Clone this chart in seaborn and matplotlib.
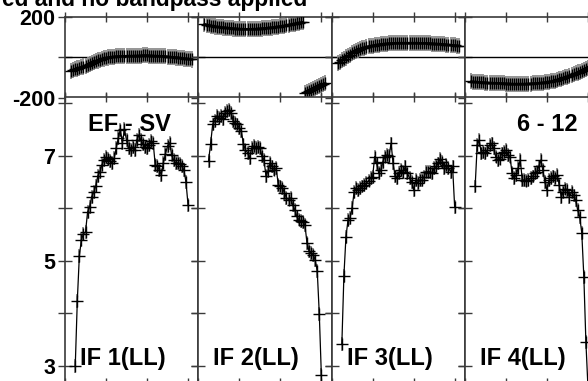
import matplotlib
matplotlib.use("Agg")
import matplotlib.pyplot as plt
import numpy as np
import pandas as pd
import seaborn as sns

sns.set_theme(style="white")
plt.rcParams["font.family"] = ["Liberation Sans", "DejaVu Sans"]
plt.rcParams["font.weight"] = "bold"

# ---------------- data ----------------
title_text = "ed and no bandpass applied"
baseline_label = "EF - SV"
time_label = "6 - 12"
if_labels = ["IF 1(LL)", "IF 2(LL)", "IF 3(LL)", "IF 4(LL)"]

amp_channels = list(range(5, 61))
phase_channels = list(range(3, 63))

amp_if1 = [3.00, 4.24, 5.10, 5.40, 5.52, 5.55, 5.93, 6.03, 6.22, 6.31,
           6.43, 6.62, 6.70, 6.83, 6.92, 6.98, 6.94, 6.90, 6.87, 6.96,
           7.15, 7.34, 7.50, 7.25, 7.51, 7.30, 7.15, 7.11, 7.17, 7.11,
           7.30, 7.40, 7.30, 7.23, 7.17, 7.15, 7.21, 7.29, 7.25, 6.83,
           6.81, 6.73, 6.64, 6.87, 7.04, 7.19, 7.25, 7.02, 6.92, 6.87,
           6.87, 6.85, 6.81, 6.73, 6.50, 6.07]
amp_if2 = [6.91, 7.23, 7.60, 7.67, 7.76, 7.72, 7.76, 7.71, 7.82, 7.86,
           7.88, 7.82, 7.67, 7.63, 7.60, 7.53, 7.48, 7.22, 7.12, 7.06,
           6.96, 7.15, 7.19, 7.15, 7.17, 7.15, 7.00, 6.93, 6.62, 6.71,
           6.87, 6.80, 6.74, 6.77, 6.45, 6.42, 6.39, 6.30, 6.20, 6.17,
           6.20, 6.07, 5.98, 5.85, 5.79, 5.76, 5.74, 5.69, 5.34, 5.19,
           5.15, 5.12, 5.02, 4.81, 3.99, 2.83]
amp_if3 = [3.42, 4.72, 5.46, 5.78, 5.82, 6.01, 6.32, 6.39, 6.35, 6.39,
           6.42, 6.45, 6.48, 6.53, 6.58, 6.60, 6.99, 6.86, 6.67, 6.73,
           6.89, 6.99, 7.02, 7.00, 7.24, 6.86, 6.61, 6.58, 6.67, 6.73,
           6.70, 6.80, 6.67, 6.58, 6.51, 6.35, 6.54, 6.48, 6.54, 6.54,
           6.60, 6.70, 6.70, 6.70, 6.67, 6.77, 6.80, 6.86, 6.95, 6.89,
           6.77, 6.83, 6.77, 6.70, 6.80, 6.03]
amp_if4 = [6.42, 7.21, 7.30, 7.05, 7.08, 7.05, 7.11, 7.21, 7.24, 7.15,
           6.99, 6.92, 6.95, 7.05, 7.08, 7.11, 7.02, 6.99, 6.67, 6.58,
           6.64, 6.77, 6.92, 6.54, 6.54, 6.53, 6.54, 6.58, 6.61, 6.67,
           6.70, 6.80, 6.92, 6.73, 6.51, 6.35, 6.54, 6.58, 6.61, 6.58,
           6.64, 6.45, 6.22, 6.32, 6.38, 6.35, 6.22, 6.32, 6.25, 6.16,
           5.97, 5.84, 5.53, 4.70, 3.46, 2.60]

phase_if1 = [-68, -64, -60, -56, -52, -49, -46, -42, -38, -34,
             -30, -25, -20, -16, -12, -9, -6, -3, -1, 1,
             2, 3, 4, 4, 5, 5, 6, 6, 7, 7,
             7, 8, 8, 8, 8, 9, 9, 9, 8, 8,
             8, 7, 7, 6, 6, 5, 4, 3, 2, 1,
             0, -1, -2, -3, -5, -6, -7, -8, -10, -11]
phase_if2 = [165, 162, 159, 157, 155, 153, 151, 150, 149, 148,
             147, 146, 145, 144, 143, 142, 142, 141, 141, 140,
             140, 140, 140, 140, 141, 141, 142, 142, 143, 144,
             145, 146, 147, 148, 149, 151, 152, 154, 155, 157,
             159, 161, 163, 165, 167, 169, 171, 173, 175, -178,
             -173, -168, -163, -158, -153, -148, -143, -138, -133, -128]
phase_if3 = [-28, -22, -15, -8, -1, 6, 13, 20, 26, 32,
             37, 41, 45, 48, 51, 54, 56, 58, 60, 62,
             63, 65, 66, 67, 68, 69, 69, 70, 70, 71,
             71, 71, 71, 71, 71, 71, 71, 71, 71, 71,
             70, 70, 70, 70, 69, 69, 68, 68, 67, 67,
             66, 65, 64, 63, 62, 61, 60, 59, 58, 57]
phase_if4 = [-120, -121, -122, -123, -124, -125, -125, -126, -126, -127,
             -127, -128, -128, -129, -129, -130, -130, -131, -131, -131,
             -132, -132, -132, -132, -132, -132, -132, -131, -131, -131,
             -130, -130, -129, -128, -127, -126, -125, -124, -122, -120,
             -118, -116, -113, -110, -107, -104, -100, -96, -92, -88,
             -84, -80, -76, -72, -67, -62, -57, -52, -47, -42]

amp_ticks = [3, 4, 5, 6, 7, 8]
amp_ticklabels = ["3", "", "5", "", "7", ""]
phase_ticks = [-200, 0, 200]
phase_ticklabels = ["-200", "", "200"]
chan_ticks = [0, 20, 40, 60]

amps = [amp_if1, amp_if2, amp_if3, amp_if4]
phases = [phase_if1, phase_if2, phase_if3, phase_if4]

# ---------------- layout ----------------
W, H = 588, 381
fig = plt.figure(figsize=(W / 100, H / 100), dpi=100)
fig.patch.set_facecolor("white")
lefts = [65, 198.3, 331.6, 464.9]
pw = 133.3
ph_top, ph_bot = 17, 97.5
am_bot = 383

spine_col = "#3a3a3a"
grey = "#8c8c8c"


def style_axes(ax, show_labels):
    ax.set_facecolor("white")
    for s in ax.spines.values():
        s.set_color(spine_col)
        s.set_linewidth(1.2)
        s.set_visible(True)
    ax.tick_params(axis="y", direction="inout", length=9.4, width=1.0,
                   color=spine_col, left=True, right=True,
                   labelleft=show_labels, labelright=False,
                   labelsize=15.5, pad=2.5)
    ax.tick_params(axis="x", direction="inout", length=6.5, width=1.0,
                   color=spine_col, bottom=True, top=True,
                   labelbottom=False, labeltop=False)
    ax.set_xlabel("")
    ax.set_ylabel("")
    ax.grid(False)
    for lab in ax.get_yticklabels():
        lab.set_fontweight("bold")
        lab.set_color("black")


for i in range(4):
    x0 = lefts[i] / W
    axp = fig.add_axes([x0, 1 - ph_bot / H, pw / W, (ph_bot - ph_top) / H])
    axa = fig.add_axes([x0, 1 - am_bot / H, pw / W, (am_bot - ph_bot) / H])

    # ---- phase panel ----
    ph = np.array(phases[i], dtype=float)
    ch = np.array(phase_channels, dtype=float)
    seg = np.concatenate([[0], np.cumsum(np.abs(np.diff(ph)) > 180)])
    dfp = pd.DataFrame({"ch": ch, "phase": ph, "seg": seg})
    axp.axhline(0, color="black", lw=1.0, zorder=1)
    axp.vlines(dfp["ch"], dfp["phase"] - 40, dfp["phase"] + 40,
               color=grey, lw=1.3, zorder=2)
    sns.lineplot(data=dfp, x="ch", y="phase", units="seg", estimator=None,
                 sort=False, color="black", lw=1.6, ax=axp, zorder=3,
                 legend=False)
    sns.scatterplot(data=dfp, x="ch", y="phase", marker="+", s=70,
                    color="black", linewidth=1.0, ax=axp, zorder=4,
                    legend=False)
    axp.set_xlim(0, 65)
    axp.set_ylim(-200, 200)
    axp.set_yticks(phase_ticks)
    axp.set_yticklabels(phase_ticklabels)
    axp.set_xticks(chan_ticks)
    style_axes(axp, i == 0)

    # ---- amplitude panel ----
    dfa = pd.DataFrame({"ch": np.array(amp_channels, dtype=float),
                        "amp": np.array(amps[i], dtype=float)})
    axa.vlines(dfa["ch"], dfa["amp"] - 0.13, dfa["amp"] + 0.13,
               color=grey, lw=1.3, zorder=2)
    sns.lineplot(data=dfa, x="ch", y="amp", estimator=None, sort=False,
                 color="black", lw=0.9, ax=axa, zorder=3, legend=False)
    sns.scatterplot(data=dfa, x="ch", y="amp", marker="+", s=64,
                    color="black", linewidth=1.0, ax=axa, zorder=4,
                    legend=False)
    axa.set_xlim(0, 65)
    axa.set_ylim(2.676, 8.114)
    axa.set_yticks(amp_ticks)
    axa.set_yticklabels(amp_ticklabels)
    axa.set_xticks(chan_ticks)
    style_axes(axa, i == 0)

# ---------------- texts ----------------
fs_lab = 17
fig.text(307 / W, 1 - 6 / H, title_text, ha="right", va="baseline",
         fontsize=16.4, fontweight="bold", color="black")
fig.text(88 / W, 1 - 131 / H, baseline_label, ha="left", va="baseline",
         fontsize=fs_lab, fontweight="bold", color="black", zorder=10)
fig.text(517 / W, 1 - 131 / H, time_label, ha="left", va="baseline",
         fontsize=fs_lab, fontweight="bold", color="black", zorder=10)
for i, lab in enumerate(if_labels):
    fig.text((lefts[i] + 15) / W, 1 - 365 / H, lab, ha="left",
             va="baseline", fontsize=fs_lab, fontweight="bold",
             color="black", zorder=10)

fig.savefig("out.png", dpi=100, facecolor="white")
